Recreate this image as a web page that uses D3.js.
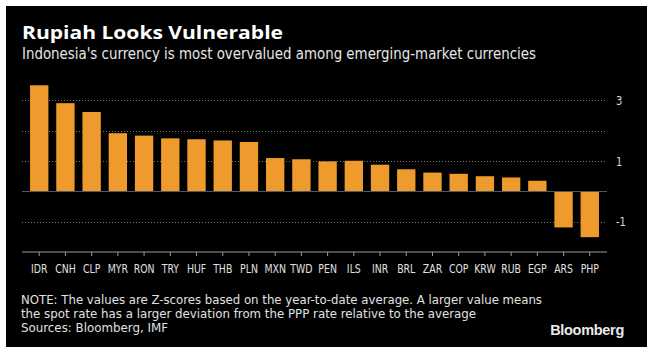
<!DOCTYPE html>
<html>
<head>
<meta charset="utf-8">
<script src="https://cdn.jsdelivr.net/npm/d3@7"></script>
<style>
  html, body { margin: 0; padding: 0; background: #fff; }
  svg { display: block; }
  .cond { font-family: 'DejaVu Sans Condensed', 'DejaVu Sans', sans-serif; }
</style>
</head>
<body>
<svg id="chart" width="653" height="355"></svg>
<script>
const categories = ["IDR","CNH","CLP","MYR","RON","TRY","HUF","THB","PLN","MXN","TWD","PEN","ILS","INR","BRL","ZAR","COP","KRW","RUB","EGP","ARS","PHP"];
const values = [3.50, 2.91, 2.62, 1.92, 1.84, 1.75, 1.72, 1.68, 1.63, 1.10, 1.06, 0.99, 1.01, 0.88, 0.73, 0.62, 0.58, 0.50, 0.46, 0.35, -1.19, -1.51];
const gridValues = [3, 2, 1, -1];
const yTickLabels = [3, 1, -1];
const title = "Rupiah Looks Vulnerable";
const subtitle = "Indonesia's currency is most overvalued among emerging-market currencies";
const notes = [
  "NOTE: The values are Z-scores based on the year-to-date average. A larger value means",
  "the spot rate has a larger deviation from the PPP rate relative to the average",
  "Sources: Bloomberg, IMF"
];

const svg = d3.select("#chart");
const data = categories.map((c, i) => ({ c, v: values[i] }));

// background
svg.append("rect").attr("x", 6).attr("y", 6).attr("width", 641).attr("height", 341).attr("fill", "#000");

const x = d3.scaleBand().domain(categories).range([26.1, 602.9]).paddingInner(0.3).paddingOuter(0.15);
const y = d3.scaleLinear().domain([-2, 3.5]).range([252, 85.3]);

const gridX0 = 22, gridX1 = 607;

function squeeze(sel, factor) {
  sel.each(function() {
    const L = this.getComputedTextLength();
    if (L > 0) d3.select(this).attr("textLength", L * factor).attr("lengthAdjust", "spacingAndGlyphs");
  });
}
function fitText(sel, w) {
  const L = sel.node().getComputedTextLength();
  if (L > 0) sel.attr("textLength", w).attr("lengthAdjust", "spacingAndGlyphs");
}

// gridlines
svg.append("g").selectAll("line").data(gridValues).join("line")
  .attr("x1", gridX0).attr("x2", gridX1)
  .attr("y1", d => Math.round(y(d)) + 0.5).attr("y2", d => Math.round(y(d)) + 0.5)
  .attr("stroke", "#777").attr("stroke-width", 1).attr("stroke-dasharray", "1,2");

// right axis labels
const yAxis = d3.axisRight(y).tickValues(yTickLabels).tickSize(0).tickPadding(9).tickFormat(d => String(d));
const gy = svg.append("g").attr("transform", `translate(${gridX1},0)`).call(yAxis);
gy.select(".domain").remove();
gy.selectAll("text").attr("class", "cond").attr("fill", "#d8d8d8").style("font-size", "13px");
squeeze(gy.selectAll("text"), 0.85);

// bars
svg.append("g").selectAll("rect").data(data).join("rect")
  .attr("x", d => x(d.c))
  .attr("width", x.bandwidth())
  .attr("y", d => y(Math.max(0, d.v)))
  .attr("height", d => Math.abs(y(d.v) - y(0)))
  .attr("fill", "#ee9a2c");

// zero line
svg.append("line").attr("x1", gridX0).attr("x2", gridX1)
  .attr("y1", Math.round(y(0)) + 0.5).attr("y2", Math.round(y(0)) + 0.5)
  .attr("stroke", "#4c5a6a").attr("stroke-width", 1);

// bottom axis
const xAxis = d3.axisBottom(x).tickSize(4).tickSizeOuter(0).tickPadding(8);
const gx = svg.append("g").attr("transform", `translate(0,${y(-2)})`).call(xAxis);
gx.select(".domain").remove();
gx.selectAll(".tick line").attr("stroke", "#9a9a9a");
gx.selectAll("text").attr("class", "cond").attr("fill", "#e0e0e0").style("font-size", "13px");
squeeze(gx.selectAll("text"), 0.8);
svg.append("line").attr("x1", gridX0).attr("x2", gridX1)
  .attr("y1", y(-2)).attr("y2", y(-2)).attr("stroke", "#9a9a9a").attr("stroke-width", 1.2);

// title & subtitle
const t = svg.append("text").attr("x", 22).attr("y", 39)
  .attr("fill", "#fff").style("font-family", "'Open Sans', 'DejaVu Sans', sans-serif")
  .style("font-weight", "700").style("font-size", "18.5px").text(title);
fitText(t, 261);

const st = svg.append("text").attr("class", "cond").attr("x", 22).attr("y", 59)
  .attr("fill", "#e6e6e6").style("font-size", "15.5px").text(subtitle);
fitText(st, 514);

// notes
const noteWidths = [521, 455, 147];
notes.forEach((s, i) => {
  const nt = svg.append("text").attr("class", "cond").attr("x", 21).attr("y", 304 + i * 14.2)
    .attr("fill", "#e0e0e0").style("font-size", "12px").text(s);
  fitText(nt, noteWidths[i]);
});

// Bloomberg logo text
svg.append("text").attr("x", 624).attr("y", 335).attr("text-anchor", "end")
  .attr("fill", "#eaeaea").style("font-family", "'Liberation Sans', Arial, sans-serif")
  .style("font-weight", "700").style("font-size", "14.5px").style("letter-spacing", "-0.3px").text("Bloomberg");
</script>
</body>
</html>
